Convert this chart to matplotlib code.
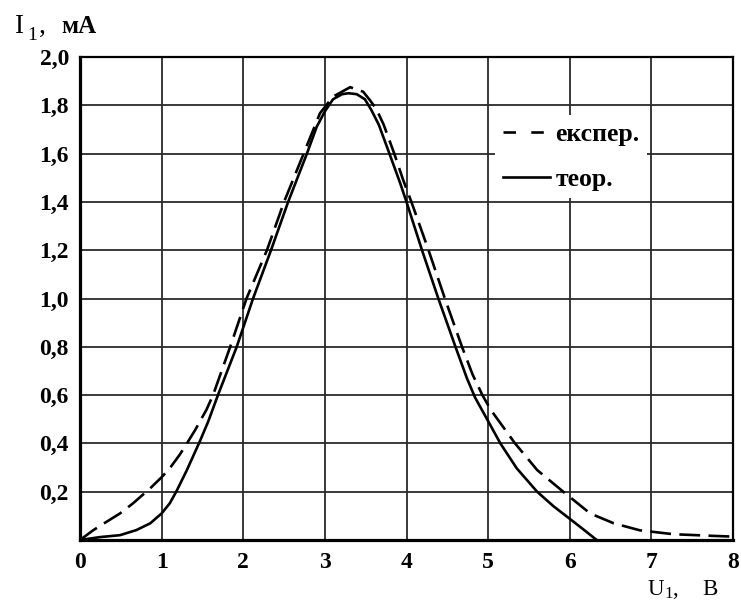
import matplotlib
matplotlib.use("Agg")
import matplotlib.pyplot as plt
from matplotlib.lines import Line2D

plt.rcParams['font.family'] = ['Liberation Serif', 'DejaVu Serif']
plt.rcParams['lines.scale_dashes'] = False

# theoretical curve (теор.)
u_theor = [0.0, 0.245, 0.49, 0.69, 0.86, 1.0, 1.10, 1.185, 1.31, 1.47, 1.57, 1.69,
           1.92, 2.12, 2.34, 2.55, 2.78, 2.90, 3.0, 3.10, 3.21, 3.29, 3.39, 3.49,
           3.57, 3.66, 3.78, 3.92, 4.0, 4.19, 4.39, 4.60, 4.74, 4.84, 5.02, 5.15,
           5.35, 5.60, 5.80, 6.03, 6.20, 6.33]
i_theor = [0.0, 0.012, 0.02, 0.041, 0.069, 0.11, 0.152, 0.204, 0.29, 0.41, 0.49, 0.60,
           0.80, 1.00, 1.20, 1.40, 1.60, 1.711, 1.775, 1.825, 1.846, 1.85, 1.846, 1.825,
           1.78, 1.72, 1.61, 1.48, 1.40, 1.20, 1.00, 0.80, 0.67, 0.59, 0.48, 0.40,
           0.297, 0.20, 0.14, 0.08, 0.035, 0.0]

# experimental curve (експер.)
u_exp = [0.0, 0.16, 0.29, 0.49, 0.65, 0.86, 1.0, 1.10, 1.225, 1.31, 1.41, 1.55, 1.63,
         1.84, 2.04, 2.29, 2.50, 2.74, 2.94, 3.10, 3.31, 3.47, 3.55, 3.63, 3.72, 3.85,
         3.96, 4.06, 4.27, 4.47, 4.68, 4.81, 4.93, 5.03, 5.33, 5.60, 5.92, 6.25, 6.54,
         6.86, 7.27, 7.76, 8.0]
i_exp = [0.0, 0.04, 0.068, 0.11, 0.152, 0.214, 0.26, 0.297, 0.355, 0.40, 0.455, 0.54, 0.60,
         0.80, 1.00, 1.20, 1.40, 1.60, 1.767, 1.836, 1.875, 1.856, 1.822, 1.785, 1.72, 1.60,
         1.49, 1.40, 1.20, 1.00, 0.80, 0.685, 0.60, 0.54, 0.40, 0.29, 0.20, 0.11, 0.069,
         0.04, 0.024, 0.017, 0.014]

x_ticks = [0, 1, 2, 3, 4, 5, 6, 7, 8]
x_tick_labels = ['0', '1', '2', '3', '4', '5', '6', '7', '8']
y_ticks = [0.2, 0.4, 0.6, 0.8, 1.0, 1.2, 1.4, 1.6, 1.8, 2.0]
y_tick_labels = ['0,2', '0,4', '0,6', '0,8', '1,0', '1,2', '1,4', '1,6', '1,8', '2,0']

W, H = 741, 602
fig = plt.figure(figsize=(W / 100, H / 100), dpi=100)
ax = fig.add_axes([80 / W, 1 - 540 / H, (733 - 80) / W, (540 - 57) / H])

ax.set_xlim(0, 8)
ax.set_ylim(0, 2.0)
ax.set_xticks(x_ticks)
ax.set_xticklabels(x_tick_labels)
ax.set_yticks(y_ticks)
ax.set_yticklabels(y_tick_labels)
ax.tick_params(length=0, labelsize=17)
ax.tick_params(axis='x', pad=9)
ax.tick_params(axis='y', pad=8)
for lab in ax.get_xticklabels() + ax.get_yticklabels():
    lab.set_fontweight('bold')

ax.grid(True, color='#2a2a2a', linewidth=1.3)
ax.set_axisbelow(True)
for side in ['top', 'right']:
    ax.spines[side].set_linewidth(1.6)
for side in ['left', 'bottom']:
    ax.spines[side].set_linewidth(2.3)

ax.plot(u_exp, i_exp, color='black', linewidth=1.9, dashes=(15, 6),
        solid_joinstyle='round', dash_joinstyle='round', zorder=3)
ax.plot(u_theor, i_theor, color='black', linewidth=1.9, solid_joinstyle='round',
        zorder=3)

handles = [Line2D([], [], color='black', linewidth=1.9, dashes=(9, 11)),
           Line2D([], [], color='black', linewidth=1.9)]
leg = ax.legend(handles, ['експер.', 'теор.'], loc='upper left',
                bbox_to_anchor=((495 - 80) / 653, 1 - (115 - 57) / 483),
                frameon=True, fancybox=False, framealpha=1.0,
                prop={'family': 'Liberation Serif', 'weight': 'bold', 'size': 18.5},
                handlelength=1.85, handletextpad=0.2, labelspacing=0.85,
                borderpad=0.3, borderaxespad=0)
leg.get_frame().set_edgecolor('white')
leg.get_frame().set_linewidth(0)

# axis labels
fig.text(14 / W, 1 - 33 / H, 'I', fontsize=19.5, va='baseline', ha='left')
fig.text(27 / W, 1 - 40 / H, '1', fontsize=14, va='baseline', ha='left')
fig.text(39 / W, 1 - 33 / H, ',', fontsize=19.5, va='baseline', ha='left')
fig.text(61 / W, 1 - 33 / H, 'мА', fontsize=18, fontweight='bold', va='baseline', ha='left')

fig.text(648 / W, 1 - 595 / H, 'U', fontsize=16.5, va='baseline', ha='left')
fig.text(664 / W, 1 - 598 / H, '1', fontsize=12, va='baseline', ha='left')
fig.text(672 / W, 1 - 595 / H, ',', fontsize=16.5, va='baseline', ha='left')
fig.text(702 / W, 1 - 595 / H, 'В', fontsize=16.5, va='baseline', ha='left')

fig.savefig('out.png', dpi=100)
